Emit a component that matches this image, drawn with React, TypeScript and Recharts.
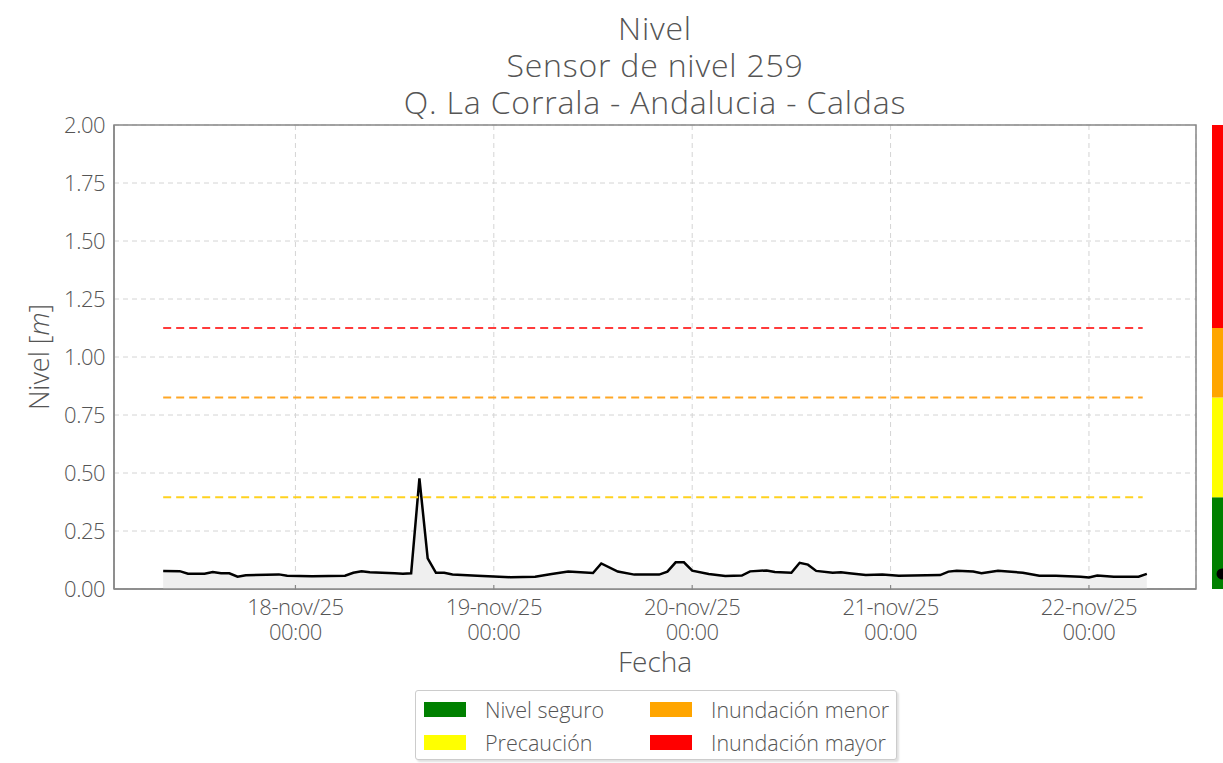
import {
  ComposedChart,
  Area,
  Bar,
  XAxis,
  YAxis,
  CartesianGrid,
  ReferenceLine,
  ReferenceArea,
  ReferenceDot,
} from "recharts";

// hours from 18-nov/25 00:00
const HOURS = [
  -16, -14, -13, -11, -10, -9, -8, -7, -6, -2, -1, 2, 6, 7, 8, 9, 12, 13, 14,
  15, 16, 17, 18, 19, 22, 26, 29, 31, 33, 36, 37, 39, 41, 44, 45, 46, 47, 48,
  50, 52, 54, 55, 57, 58, 60, 61, 62, 63, 65, 66, 67, 69, 71, 73, 78, 79, 80,
  82, 83, 85, 88, 90, 92, 95, 96, 97, 99, 102, 103,
];

const LEVEL = [
  0.078, 0.077, 0.066, 0.066, 0.073, 0.068, 0.068, 0.053, 0.059, 0.063, 0.057,
  0.055, 0.057, 0.07, 0.076, 0.072, 0.068, 0.066, 0.068, 0.477, 0.132, 0.07,
  0.07, 0.063, 0.057, 0.051, 0.053, 0.065, 0.075, 0.069, 0.11, 0.075, 0.062,
  0.062, 0.075, 0.115, 0.115, 0.079, 0.065, 0.056, 0.058, 0.076, 0.08, 0.073,
  0.07, 0.113, 0.105, 0.078, 0.07, 0.072, 0.068, 0.06, 0.063, 0.057, 0.06,
  0.075, 0.079, 0.075, 0.068, 0.079, 0.07, 0.057, 0.057, 0.053, 0.05, 0.058,
  0.053, 0.053, 0.065,
];

const X_TICKS = [0, 24, 48, 72, 96];
const DAY_LABELS = ["18-nov/25", "19-nov/25", "20-nov/25", "21-nov/25", "22-nov/25"];
const Y_TICKS = [0, 0.25, 0.5, 0.75, 1, 1.25, 1.5, 1.75, 2];

// thresholds: precaución, inundación menor, inundación mayor
const THRESHOLDS = [0.395, 0.825, 1.125];
const THRESHOLD_COLORS = ["#ffd21f", "#ffa726", "#ff3b3b"];

const LEGEND_ITEMS = [
  { name: "Nivel seguro", color: "#008000" },
  { name: "Inundación menor", color: "#ffa500" },
  { name: "Precaución", color: "#ffff00" },
  { name: "Inundación mayor", color: "#ff0000" },
];

const FONT = "'Open Sans', sans-serif";
const TXT = "#555";

const data = HOURS.map((t, i) => ({ t, level: LEVEL[i] }));
const t0 = HOURS[0];
const t1 = HOURS[HOURS.length - 1];
const pad = (t1 - t0) * 0.05;

const bandRow = [
  {
    name: "n",
    seguro: THRESHOLDS[0],
    precaucion: THRESHOLDS[1] - THRESHOLDS[0],
    menor: THRESHOLDS[2] - THRESHOLDS[1],
    mayor: 2 - THRESHOLDS[2],
  },
];

/* eslint-disable @typescript-eslint/no-explicit-any */
function DateTick({ x, y, payload }: any) {
  const idx = X_TICKS.indexOf(payload.value);
  return (
    <g>
      <line x1={x} x2={x} y1={y - 12} y2={y - 7} stroke="#888" strokeWidth={1.2} />
      <text
        x={x}
        y={y + 18}
        textAnchor="middle"
        fontSize={22}
        fontWeight={300}
        fill={TXT}
        fontFamily={FONT}
        style={{ letterSpacing: -0.5 }}
      >
        <tspan x={x}>{DAY_LABELS[idx]}</tspan>
        <tspan x={x} dy={25}>
          00:00
        </tspan>
      </text>
    </g>
  );
}

function YLabel({ viewBox }: any) {
  const cy = viewBox.y + viewBox.height / 2;
  return (
    <text
      x={38}
      y={cy}
      transform={`rotate(-90, 38, ${cy})`}
      textAnchor="middle"
      dominantBaseline="central"
      fontSize={27}
      fontWeight={300}
      fill={TXT}
      fontFamily={FONT}
    >
      Nivel [<tspan fontStyle="italic">m</tspan>]
    </text>
  );
}
/* eslint-enable @typescript-eslint/no-explicit-any */

export default function App() {
  return (
    <div
      style={{
        position: "absolute",
        left: 0,
        top: 0,
        width: 1223,
        height: 763,
        overflow: "hidden",
        background: "#fff",
        fontFamily: FONT,
        fontWeight: 300,
      }}
    >
      <div
        style={{
          position: "absolute",
          left: 255,
          width: 800,
          top: 9,
          textAlign: "center",
          fontSize: 32,
          letterSpacing: 0.8,
          lineHeight: "37px",
          color: TXT,
        }}
      >
        <div>Nivel</div>
        <div>Sensor de nivel 259</div>
        <div>Q. La Corrala - Andalucia - Caldas</div>
      </div>

      <div style={{ position: "absolute", left: 0, top: 0 }}>
        <ComposedChart
          width={1223}
          height={763}
          data={data}
          margin={{ top: 125, right: 27, bottom: 124, left: 0 }}
        >
          <CartesianGrid stroke="#d4d4d4" strokeDasharray="5 4" />
          <XAxis
            dataKey="t"
            type="number"
            domain={[t0 - pad, t1 + pad]}
            ticks={X_TICKS}
            tick={<DateTick />}
            tickLine={false}
            axisLine={{ stroke: "#888", strokeWidth: 1.5 }}
            height={50}
            label={{
              value: "Fecha",
              position: "insideBottom",
              offset: -33,
              fontSize: 28,
              fontWeight: 300,
              fill: TXT,
              fontFamily: FONT,
            }}
          />
          <YAxis
            type="number"
            domain={[0, 2]}
            ticks={Y_TICKS}
            width={114}
            tickSize={0}
            tickMargin={9}
            tickFormatter={(v: number) => v.toFixed(2)}
            tick={{ fontSize: 22, fontWeight: 300, fill: TXT, fontFamily: FONT, letterSpacing: -0.5 }}
            axisLine={{ stroke: "#888", strokeWidth: 1.5 }}
            label={<YLabel />}
          />
          <ReferenceArea
            x1={t0 - pad}
            x2={t1 + pad}
            y1={0}
            y2={2}
            fill="none"
            stroke="#888"
            strokeWidth={1.5}
          />
          {THRESHOLDS.map((v, i) => (
            <ReferenceLine
              key={v}
              segment={[
                { x: t0, y: v },
                { x: t1 - 0.5, y: v },
              ]}
              stroke={THRESHOLD_COLORS[i]}
              strokeWidth={2}
              strokeDasharray="8 5"
            />
          ))}
          <Area
            type="linear"
            dataKey="level"
            stroke="#000"
            strokeWidth={2.5}
            fill="#efefef"
            fillOpacity={1}
            isAnimationActive={false}
            dot={false}
          />
        </ComposedChart>
      </div>

      {/* colour scale on the right */}
      <div style={{ position: "absolute", left: 1212, top: 125 }}>
        <ComposedChart
          width={20}
          height={464}
          data={bandRow}
          margin={{ top: 0, right: 0, bottom: 0, left: 0 }}
          barCategoryGap={0}
        >
          <XAxis dataKey="name" type="category" hide />
          <YAxis type="number" domain={[0, 2]} hide />
          <Bar dataKey="seguro" stackId="b" fill="#008000" isAnimationActive={false} />
          <Bar dataKey="precaucion" stackId="b" fill="#ffff00" isAnimationActive={false} />
          <Bar dataKey="menor" stackId="b" fill="#ffa500" isAnimationActive={false} />
          <Bar dataKey="mayor" stackId="b" fill="#ff0000" isAnimationActive={false} />
          <ReferenceDot
            x="n"
            y={LEVEL[LEVEL.length - 1]}
            r={5.5}
            fill="#000"
            stroke="none"
            ifOverflow="visible"
          />
        </ComposedChart>
      </div>

      {/* legend */}
      <div
        style={{
          position: "absolute",
          left: 415,
          top: 690,
          width: 482,
          height: 70,
          border: "1px solid #ccc",
          borderRadius: 3,
          boxShadow: "2px 2px 2px rgba(0,0,0,0.12)",
          background: "#fff",
          display: "grid",
          gridTemplateColumns: "226px 252px",
          gridTemplateRows: "33px 33px",
          paddingTop: 2,
          boxSizing: "border-box",
        }}
      >
        {LEGEND_ITEMS.map((item) => (
          <div
            key={item.name}
            style={{ display: "flex", alignItems: "center", paddingLeft: 8 }}
          >
            <span
              style={{
                display: "inline-block",
                width: 42,
                height: 15,
                background: item.color,
                marginRight: 19,
              }}
            />
            <span style={{ fontSize: 21.5, color: TXT }}>{item.name}</span>
          </div>
        ))}
      </div>
    </div>
  );
}
